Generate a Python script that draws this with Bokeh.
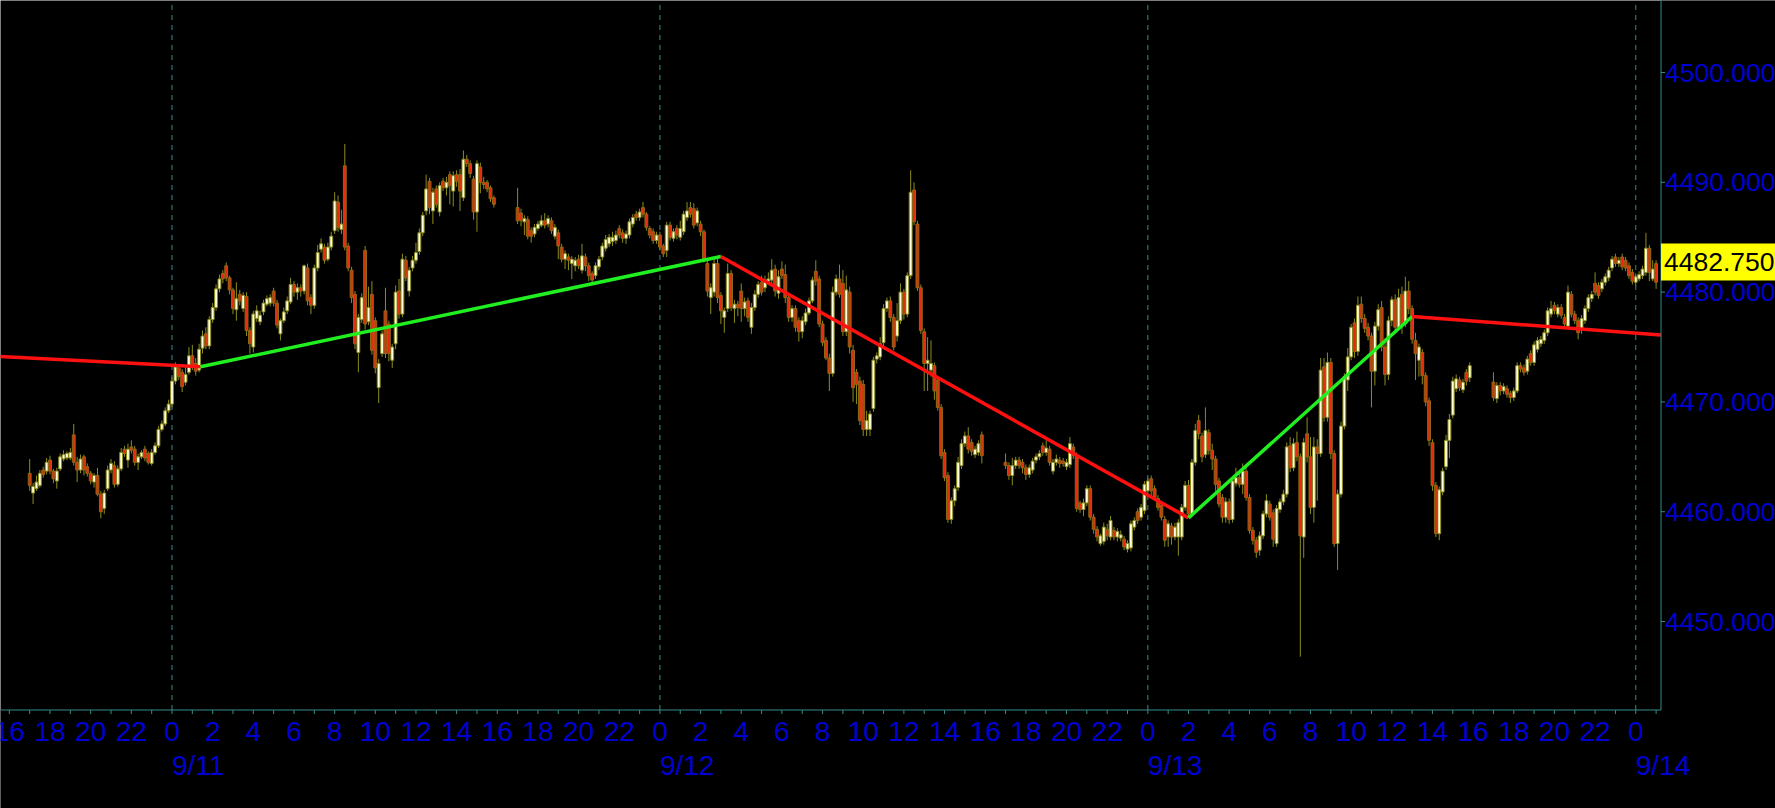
from bokeh.plotting import figure
from bokeh.models import Range1d, ColumnDataSource
from bokeh.core.properties import value
from bokeh.embed import file_html
from bokeh.resources import INLINE

# ---------------- data (10-minute bars, hours measured from 9/11 00:00) ----------------
bar_minutes = 10
session_start_h = [-7, 17, 41, 65]          # 9/10 17:00, 9/11 17:00, 9/12 17:00, 9/13 17:00

a_open = [4463.5, 4461.7, 4462.1, 4462.4, 4463.8, 4463.7, 4464.7, 4463.7, 4462.8, 4463.9,
          4464.8, 4464.9, 4464.9, 4467.0, 4464.5, 4463.8, 4465.0, 4464.1, 4463.5, 4462.7,
          4463.3, 4461.6, 4460.3, 4462.1, 4463.8, 4464.2, 4462.5, 4463.9, 4465.7, 4464.7,
          4465.9, 4465.7, 4464.5, 4465.0, 4465.7, 4465.3, 4464.4, 4465.4, 4466.0, 4467.5,
          4468.0, 4469.2, 4469.8, 4471.9, 4473.1, 4472.7, 4471.8, 4472.7, 4474.2, 4473.5,
          4472.9, 4474.9, 4476.2, 4475.1, 4477.5, 4478.6, 4480.3, 4481.7, 4482.4, 4481.3,
          4480.2, 4478.4, 4479.8, 4478.5, 4479.6, 4476.5, 4475.0, 4477.6, 4477.3, 4478.2,
          4478.9, 4479.0, 4480.1, 4479.0, 4476.2, 4477.4, 4478.3, 4479.1, 4480.7, 4480.0,
          4480.4, 4480.1, 4482.2, 4479.5, 4478.8, 4482.2, 4483.9, 4484.1, 4483.0, 4484.1,
          4485.6, 4488.2, 4485.7, 4491.5, 4484.2, 4482.0, 4479.8, 4474.5, 4477.5, 4483.8,
          4477.3, 4479.8, 4477.4, 4471.3, 4474.4, 4478.3, 4477.1, 4473.8, 4475.3, 4480.1,
          4478.0, 4482.9, 4480.1, 4482.2, 4482.9, 4483.7, 4485.4, 4487.4, 4490.1, 4487.4,
          4489.4, 4487.3, 4490.1, 4489.5, 4490.7, 4489.2, 4490.7, 4490.7, 4488.6, 4492.1,
          4491.7, 4490.3, 4487.3, 4491.4, 4490.0, 4490.0, 4489.5, 4488.6]
a_high = [4464.8, 4462.6, 4463.3, 4463.8, 4464.1, 4464.9, 4465.1, 4463.9, 4464.0, 4465.3,
          4465.6, 4465.5, 4465.8, 4468.0, 4465.0, 4465.2, 4465.2, 4464.4, 4463.7, 4463.5,
          4464.0, 4461.9, 4462.0, 4464.2, 4464.8, 4464.6, 4464.2, 4465.8, 4466.0, 4466.2,
          4466.5, 4466.0, 4465.3, 4465.6, 4466.0, 4465.5, 4465.7, 4466.3, 4467.8, 4468.3,
          4469.5, 4470.2, 4472.3, 4473.6, 4473.4, 4473.0, 4473.3, 4475.0, 4475.2, 4474.0,
          4475.3, 4476.5, 4476.8, 4477.8, 4479.0, 4480.7, 4481.6, 4482.0, 4482.7, 4481.5,
          4480.4, 4480.9, 4480.2, 4480.0, 4480.0, 4476.8, 4478.3, 4478.8, 4478.3, 4479.3,
          4479.7, 4479.8, 4480.4, 4479.3, 4477.6, 4478.6, 4479.6, 4481.3, 4481.0, 4480.8,
          4480.7, 4482.5, 4482.6, 4479.8, 4482.5, 4484.3, 4484.9, 4484.4, 4484.5, 4485.5,
          4489.1, 4488.8, 4487.5, 4493.5, 4484.5, 4482.3, 4480.1, 4478.0, 4479.9, 4484.2,
          4480.5, 4481.0, 4477.7, 4473.9, 4476.5, 4480.4, 4477.4, 4475.3, 4480.6, 4481.2,
          4483.5, 4483.3, 4482.3, 4483.3, 4484.5, 4485.8, 4487.3, 4490.7, 4490.4, 4489.5,
          4489.7, 4490.0, 4490.4, 4490.5, 4491.0, 4491.0, 4491.1, 4491.2, 4492.9, 4492.5,
          4492.0, 4490.6, 4492.0, 4491.8, 4490.5, 4490.2, 4489.7, 4488.8]
a_low = [4461.9, 4460.7, 4461.9, 4462.2, 4463.1, 4463.4, 4463.4, 4462.6, 4462.1, 4463.7,
         4464.6, 4464.7, 4464.7, 4464.2, 4462.7, 4463.5, 4463.3, 4463.2, 4462.5, 4462.2,
         4461.4, 4459.4, 4459.8, 4461.9, 4463.5, 4462.2, 4462.3, 4463.7, 4465.0, 4464.0,
         4465.3, 4464.2, 4463.8, 4464.8, 4464.6, 4464.3, 4464.2, 4465.2, 4465.8, 4467.3,
         4467.8, 4469.0, 4469.5, 4471.6, 4472.0, 4470.9, 4471.5, 4472.5, 4472.9, 4472.4,
         4472.7, 4474.4, 4474.8, 4474.8, 4477.2, 4478.3, 4480.0, 4480.8, 4481.0, 4479.8,
         4478.0, 4477.4, 4478.8, 4478.2, 4476.0, 4474.4, 4474.5, 4477.3, 4477.0, 4477.9,
         4478.7, 4478.7, 4478.7, 4476.7, 4475.6, 4477.2, 4478.0, 4478.9, 4479.6, 4479.3,
         4479.6, 4479.8, 4478.8, 4478.0, 4478.5, 4481.9, 4483.6, 4482.6, 4482.8, 4483.8,
         4485.3, 4485.5, 4485.3, 4483.8, 4481.9, 4479.0, 4474.8, 4472.7, 4477.2, 4476.6,
         4477.0, 4474.3, 4472.6, 4469.9, 4474.1, 4474.0, 4473.7, 4473.1, 4474.8, 4477.6,
         4477.7, 4481.0, 4479.6, 4481.9, 4482.6, 4483.4, 4485.1, 4487.0, 4487.1, 4486.2,
         4487.7, 4486.9, 4489.2, 4488.8, 4488.0, 4487.8, 4489.6, 4487.4, 4488.3, 4491.4,
         4490.4, 4486.6, 4485.5, 4489.0, 4489.4, 4489.1, 4488.2, 4487.7]
a_close = [4462.4, 4462.3, 4462.7, 4463.5, 4463.4, 4464.5, 4463.7, 4463.0, 4463.7, 4465.0,
           4465.2, 4465.3, 4465.4, 4464.5, 4463.8, 4464.8, 4463.8, 4463.5, 4462.8, 4463.3,
           4461.6, 4460.0, 4461.7, 4463.8, 4464.4, 4462.5, 4463.9, 4465.4, 4465.3, 4465.7,
           4465.6, 4464.5, 4465.0, 4465.4, 4464.9, 4464.5, 4465.4, 4466.0, 4467.5, 4468.0,
           4469.2, 4469.8, 4471.9, 4473.2, 4472.3, 4471.4, 4472.5, 4474.2, 4473.3, 4472.8,
           4474.8, 4476.0, 4475.1, 4477.5, 4478.6, 4480.3, 4481.2, 4481.2, 4481.3, 4480.2,
           4478.5, 4479.4, 4479.2, 4479.7, 4476.5, 4475.3, 4478.0, 4478.3, 4477.9, 4479.0,
           4479.4, 4479.5, 4479.0, 4477.0, 4477.4, 4478.2, 4479.2, 4480.7, 4480.0, 4480.4,
           4480.1, 4482.4, 4479.2, 4478.8, 4482.2, 4483.6, 4484.4, 4482.9, 4484.1, 4485.1,
           4488.3, 4485.9, 4486.2, 4484.1, 4482.2, 4479.5, 4475.3, 4477.7, 4479.5, 4477.1,
           4478.6, 4474.7, 4473.1, 4473.5, 4476.2, 4474.4, 4474.4, 4475.0, 4480.0, 4478.0,
           4483.0, 4481.3, 4482.0, 4482.9, 4483.6, 4485.4, 4487.0, 4489.4, 4487.7, 4489.1,
           4488.0, 4489.7, 4489.5, 4490.0, 4489.7, 4490.6, 4490.1, 4489.2, 4492.1, 4491.7,
           4490.8, 4487.3, 4491.7, 4490.0, 4489.8, 4489.4, 4488.5, 4488.0]

b_open = [4487.7, 4487.2, 4486.4, 4486.6, 4485.6, 4485.3, 4485.8, 4486.1, 4486.5, 4486.2,
          4486.5, 4485.1, 4485.4, 4484.1, 4483.0, 4483.2, 4482.6, 4482.4, 4483.0, 4482.0,
          4483.2, 4482.4, 4481.7, 4481.5, 4482.3, 4483.2, 4484.0, 4484.4, 4484.6, 4484.7,
          4485.8, 4485.4, 4484.9, 4485.2, 4486.2, 4487.1, 4486.8, 4487.7, 4487.1, 4485.8,
          4485.5, 4484.7, 4485.2, 4484.2, 4483.8, 4486.1, 4484.9, 4485.8, 4485.0, 4485.5,
          4486.8, 4487.7, 4487.6, 4486.3, 4486.2, 4485.5, 4482.6, 4479.5, 4480.0, 4482.6,
          4479.7, 4477.7, 4478.5, 4481.7, 4478.5, 4478.9, 4480.1, 4478.5, 4479.2, 4476.8,
          4478.6, 4479.8, 4480.9, 4480.4, 4481.0, 4481.1, 4482.1, 4479.9, 4482.1, 4481.6,
          4479.5, 4477.7, 4478.5, 4477.4, 4476.4, 4477.3, 4478.1, 4479.2, 4481.9, 4481.2,
          4477.1, 4475.6, 4474.0, 4472.6, 4480.0, 4481.2, 4480.8, 4476.4, 4480.0, 4474.7,
          4472.7, 4471.9, 4471.6, 4467.5, 4467.5, 4469.4, 4473.9, 4474.1, 4475.4, 4478.5,
          4479.2, 4477.7, 4476.0, 4477.4, 4480.0, 4478.0, 4481.5, 4489.3, 4486.2, 4480.4,
          4476.4, 4473.5, 4472.9, 4473.3, 4472.0, 4469.5, 4465.4, 4463.3, 4459.3, 4461.0,
          4462.2, 4464.2, 4466.2, 4466.9, 4466.3, 4465.2, 4465.4, 4467.0]
b_high = [4489.5, 4487.6, 4487.0, 4486.9, 4485.9, 4486.2, 4486.5, 4487.0, 4487.2, 4487.0,
          4486.8, 4486.2, 4485.7, 4484.4, 4483.8, 4483.5, 4483.3, 4483.2, 4483.4, 4484.4,
          4483.5, 4482.7, 4481.9, 4482.7, 4483.3, 4484.5, 4485.2, 4485.3, 4485.5, 4485.6,
          4486.1, 4485.7, 4485.6, 4486.7, 4487.1, 4487.4, 4487.6, 4488.2, 4487.3, 4486.0,
          4485.8, 4485.5, 4485.5, 4484.4, 4486.4, 4486.4, 4485.8, 4486.1, 4486.5, 4487.4,
          4488.2, 4488.2, 4488.1, 4487.7, 4486.5, 4485.7, 4482.9, 4480.8, 4483.0, 4483.2,
          4480.0, 4478.6, 4482.6, 4482.0, 4479.3, 4479.2, 4480.8, 4479.5, 4479.5, 4479.0,
          4480.2, 4481.0, 4481.5, 4481.5, 4481.8, 4483.0, 4482.5, 4482.0, 4482.8, 4482.5,
          4479.8, 4478.8, 4478.8, 4477.7, 4477.8, 4478.5, 4479.5, 4481.4, 4482.9, 4481.5,
          4477.4, 4475.9, 4474.4, 4480.5, 4481.6, 4482.5, 4482.0, 4481.5, 4480.5, 4475.2,
          4473.0, 4472.3, 4472.0, 4469.2, 4469.2, 4474.1, 4474.5, 4475.9, 4478.9, 4479.5,
          4479.6, 4478.0, 4479.0, 4480.8, 4480.3, 4481.8, 4491.1, 4490.0, 4486.5, 4480.7,
          4476.7, 4475.9, 4475.6, 4473.6, 4472.3, 4469.8, 4465.7, 4463.6, 4461.3, 4462.4,
          4465.0, 4466.6, 4467.3, 4467.7, 4466.6, 4466.0, 4466.5, 4467.3]
b_low = [4486.2, 4486.0, 4485.2, 4484.8, 4484.5, 4485.0, 4485.6, 4485.9, 4485.8, 4485.9,
         4485.3, 4484.8, 4483.0, 4482.7, 4482.1, 4482.0, 4481.2, 4481.9, 4482.1, 4481.7,
         4481.9, 4481.0, 4480.8, 4481.2, 4482.0, 4482.9, 4483.7, 4484.1, 4484.2, 4484.4,
         4484.9, 4484.5, 4484.4, 4484.9, 4485.9, 4486.5, 4486.5, 4486.8, 4485.6, 4484.9,
         4484.4, 4484.4, 4483.8, 4483.2, 4483.2, 4484.7, 4484.6, 4484.8, 4484.7, 4485.2,
         4486.5, 4486.8, 4485.8, 4486.0, 4485.1, 4482.7, 4479.6, 4478.0, 4479.6, 4479.0,
         4477.1, 4476.3, 4478.2, 4478.3, 4477.2, 4477.8, 4477.3, 4477.8, 4477.3, 4476.2,
         4478.3, 4479.5, 4479.7, 4480.0, 4480.8, 4480.8, 4479.6, 4479.4, 4481.2, 4479.0,
         4477.3, 4477.3, 4476.4, 4475.5, 4475.8, 4477.0, 4477.9, 4479.0, 4480.6, 4476.8,
         4475.1, 4473.8, 4471.0, 4472.3, 4479.7, 4479.5, 4476.0, 4476.0, 4474.4, 4470.0,
         4469.8, 4467.9, 4466.9, 4466.9, 4466.9, 4469.1, 4473.5, 4473.8, 4475.1, 4478.2,
         4477.3, 4474.7, 4475.5, 4477.1, 4477.5, 4477.7, 4481.2, 4486.1, 4480.1, 4476.2,
         4471.0, 4471.0, 4472.3, 4470.2, 4469.2, 4464.8, 4462.8, 4459.0, 4458.9, 4460.5,
         4461.9, 4463.9, 4465.9, 4465.3, 4465.1, 4464.9, 4465.1, 4464.4]
b_close = [4486.5, 4486.5, 4486.7, 4485.1, 4485.1, 4485.9, 4486.2, 4486.5, 4486.1, 4486.7,
           4485.6, 4485.9, 4484.2, 4483.0, 4483.5, 4482.9, 4483.0, 4482.9, 4482.4, 4483.3,
           4482.4, 4481.5, 4481.1, 4482.4, 4483.0, 4484.2, 4484.8, 4485.0, 4485.0, 4485.2,
           4485.2, 4484.9, 4485.3, 4486.4, 4486.8, 4486.8, 4487.3, 4487.1, 4485.9, 4485.2,
           4484.7, 4485.2, 4484.1, 4483.5, 4486.1, 4485.0, 4485.5, 4485.2, 4485.8, 4487.1,
           4487.4, 4487.1, 4486.1, 4487.4, 4485.5, 4483.0, 4480.1, 4480.4, 4482.6, 4479.5,
           4478.3, 4478.3, 4481.7, 4478.6, 4478.9, 4478.6, 4478.5, 4479.1, 4477.7, 4478.6,
           4479.8, 4480.7, 4480.0, 4481.1, 4481.2, 4482.0, 4480.1, 4481.4, 4481.5, 4479.5,
           4477.7, 4478.5, 4476.8, 4476.4, 4477.4, 4478.1, 4479.2, 4481.1, 4481.0, 4477.1,
           4475.4, 4474.0, 4472.6, 4480.0, 4481.2, 4479.8, 4476.4, 4480.2, 4475.0, 4471.3,
           4471.6, 4468.3, 4467.5, 4468.3, 4468.9, 4473.8, 4474.2, 4475.3, 4478.5, 4479.2,
           4477.7, 4475.0, 4477.4, 4480.0, 4478.0, 4481.5, 4489.1, 4486.4, 4480.4, 4476.5,
           4473.5, 4473.8, 4473.5, 4471.0, 4469.5, 4465.1, 4463.1, 4459.3, 4461.0, 4462.1,
           4464.5, 4466.2, 4466.9, 4465.7, 4465.5, 4465.7, 4466.2, 4465.1]

c_open = [4464.5, 4464.2, 4463.3, 4464.2, 4464.7, 4464.5, 4464.0, 4463.4, 4463.8, 4464.7,
          4465.0, 4466.0, 4465.4, 4465.7, 4463.7, 4464.5, 4464.7, 4464.6, 4464.1, 4464.3,
          4465.9, 4465.1, 4460.8, 4460.2, 4460.8, 4462.1, 4459.5, 4458.4, 4457.1, 4457.3,
          4458.4, 4457.7, 4458.3, 4457.7, 4457.6, 4457.5, 4456.6, 4456.7, 4458.6, 4460.0,
          4459.5, 4460.1, 4461.9, 4463.0, 4462.1, 4461.2, 4460.6, 4459.3, 4457.7, 4458.7,
          4457.7, 4457.7, 4457.7, 4460.4, 4462.4, 4459.8, 4464.5, 4468.3, 4466.9, 4465.2,
          4467.2, 4465.6, 4464.8, 4462.8, 4461.3, 4459.5, 4460.9, 4459.3, 4462.6, 4463.1,
          4462.5, 4463.7, 4461.3, 4458.3, 4457.4, 4456.5, 4457.8, 4459.8, 4460.7, 4459.9,
          4457.1, 4460.2, 4460.9, 4461.6, 4466.0, 4464.0, 4466.3, 4465.0, 4457.7, 4467.1,
          4465.0, 4460.4, 4465.9, 4465.3, 4473.2, 4468.6, 4473.6, 4465.3, 4457.1, 4461.6,
          4467.8, 4472.0, 4474.1, 4477.2, 4474.6, 4478.9, 4477.6, 4476.8, 4476.0, 4472.8,
          4476.9, 4478.6, 4475.0, 4472.5, 4477.4, 4479.3, 4476.8, 4479.8, 4477.1, 4480.1,
          4478.5, 4475.6, 4473.8, 4474.5, 4472.4, 4470.1, 4466.3, 4462.4, 4458.0, 4461.8,
          4464.1, 4466.5, 4468.8, 4471.2, 4472.0, 4471.1, 4472.7, 4472.2]
c_high = [4465.3, 4464.5, 4464.9, 4465.0, 4465.0, 4464.8, 4464.3, 4464.3, 4464.9, 4465.3,
          4465.6, 4466.3, 4466.5, 4466.0, 4464.8, 4465.2, 4465.0, 4464.9, 4464.8, 4466.8,
          4466.2, 4465.4, 4461.0, 4461.2, 4462.4, 4462.4, 4459.8, 4458.7, 4458.0, 4459.0,
          4458.9, 4459.6, 4458.6, 4458.5, 4458.3, 4457.8, 4457.4, 4459.2, 4459.5, 4460.3,
          4460.7, 4462.8, 4463.1, 4463.3, 4462.4, 4461.5, 4460.9, 4459.6, 4459.2, 4459.0,
          4459.0, 4459.3, 4460.7, 4462.8, 4462.9, 4464.8, 4468.0, 4468.8, 4467.2, 4469.5,
          4467.5, 4466.2, 4465.1, 4463.1, 4461.6, 4461.3, 4461.2, 4463.2, 4464.0, 4463.5,
          4464.4, 4464.0, 4461.6, 4458.6, 4457.7, 4458.2, 4460.1, 4461.6, 4461.0, 4460.2,
          4460.6, 4461.2, 4462.0, 4466.3, 4466.8, 4466.7, 4467.3, 4465.3, 4466.7, 4468.6,
          4466.8, 4466.8, 4466.6, 4474.0, 4474.0, 4474.5, 4474.0, 4465.6, 4462.0, 4468.2,
          4472.6, 4474.9, 4477.1, 4477.6, 4479.6, 4479.6, 4478.0, 4477.2, 4476.3, 4477.3,
          4478.9, 4479.2, 4475.8, 4477.8, 4479.6, 4479.8, 4480.3, 4480.5, 4481.4, 4481.0,
          4478.8, 4476.3, 4475.3, 4474.8, 4472.7, 4470.4, 4466.6, 4462.7, 4462.3, 4464.0,
          4467.0, 4468.9, 4472.3, 4472.5, 4472.3, 4472.1, 4473.0, 4473.6]
c_low = [4463.9, 4462.9, 4462.4, 4463.9, 4463.9, 4463.5, 4462.9, 4463.1, 4463.5, 4464.4,
         4464.7, 4465.1, 4465.1, 4464.2, 4463.4, 4464.2, 4464.0, 4464.1, 4463.8, 4464.0,
         4464.8, 4460.0, 4459.9, 4459.6, 4460.5, 4459.2, 4458.0, 4457.3, 4456.9, 4457.0,
         4457.4, 4457.4, 4457.4, 4457.3, 4457.3, 4456.5, 4456.3, 4456.4, 4458.3, 4458.9,
         4459.2, 4459.8, 4461.6, 4461.2, 4461.0, 4460.1, 4459.2, 4456.8, 4456.8, 4457.0,
         4457.4, 4456.0, 4457.4, 4460.1, 4459.5, 4459.5, 4464.2, 4466.6, 4464.5, 4464.9,
         4465.2, 4463.8, 4461.9, 4460.4, 4459.0, 4459.0, 4458.9, 4459.0, 4462.3, 4462.2,
         4461.6, 4461.0, 4458.0, 4457.0, 4455.8, 4456.0, 4457.5, 4459.5, 4459.2, 4456.8,
         4456.8, 4459.9, 4460.6, 4461.3, 4463.6, 4463.7, 4464.6, 4446.8, 4455.8, 4464.5,
         4459.8, 4459.0, 4461.0, 4465.0, 4468.2, 4468.2, 4464.8, 4456.8, 4454.7, 4461.3,
         4467.5, 4471.0, 4473.8, 4474.0, 4474.2, 4477.2, 4476.3, 4475.6, 4469.5, 4471.5,
         4476.5, 4474.6, 4471.5, 4472.0, 4476.9, 4476.4, 4476.6, 4476.2, 4476.8, 4478.0,
         4475.3, 4472.0, 4472.3, 4471.6, 4469.6, 4466.0, 4461.9, 4457.7, 4457.4, 4461.5,
         4463.8, 4464.9, 4468.5, 4470.9, 4471.0, 4470.8, 4471.5, 4471.8]
c_close = [4464.2, 4463.3, 4464.2, 4464.7, 4464.2, 4464.0, 4463.4, 4464.0, 4464.6, 4465.0,
           4465.3, 4465.4, 4465.8, 4464.5, 4464.5, 4464.8, 4464.4, 4464.4, 4464.5, 4466.2,
           4465.1, 4460.3, 4460.2, 4460.8, 4462.1, 4459.5, 4458.4, 4457.7, 4457.8, 4458.6,
           4457.8, 4459.2, 4457.7, 4458.2, 4457.9, 4456.8, 4457.1, 4458.9, 4459.2, 4459.2,
           4460.4, 4462.5, 4462.8, 4461.9, 4461.3, 4460.4, 4459.5, 4457.4, 4458.9, 4457.7,
           4458.6, 4459.0, 4460.4, 4462.4, 4459.8, 4464.5, 4467.4, 4467.1, 4465.0, 4467.4,
           4465.6, 4464.8, 4462.5, 4460.7, 4459.5, 4460.9, 4459.3, 4462.8, 4463.1, 4462.5,
           4463.7, 4461.3, 4458.3, 4457.4, 4456.3, 4457.8, 4459.8, 4461.0, 4459.5, 4457.5,
           4460.3, 4460.9, 4461.6, 4465.9, 4464.0, 4466.2, 4465.0, 4457.8, 4466.3, 4465.0,
           4460.4, 4465.9, 4465.3, 4472.9, 4468.6, 4473.6, 4465.3, 4457.1, 4461.6, 4467.8,
           4472.3, 4474.1, 4476.8, 4474.6, 4478.8, 4477.6, 4476.7, 4476.0, 4472.8, 4476.9,
           4478.4, 4475.0, 4472.5, 4477.4, 4479.3, 4476.8, 4479.5, 4477.1, 4480.1, 4478.5,
           4475.7, 4474.4, 4475.0, 4472.4, 4470.0, 4466.5, 4462.4, 4458.0, 4462.0, 4463.7,
           4466.5, 4468.4, 4471.9, 4472.1, 4471.3, 4471.8, 4471.9, 4473.3]

d_open = [4471.8, 4470.3, 4471.5, 4471.0, 4471.2, 4470.8, 4470.4, 4471.0, 4473.3, 4473.1,
          4472.8, 4474.4, 4473.6, 4474.8, 4475.3, 4475.6, 4476.3, 4478.0, 4478.8, 4478.0,
          4478.6, 4477.7, 4476.9, 4479.8, 4478.0, 4477.4, 4476.6, 4477.4, 4478.5, 4479.4,
          4480.8, 4480.6, 4480.3, 4480.9, 4481.3, 4482.2, 4483.2, 4482.6, 4483.2, 4482.9,
          4482.4, 4481.8, 4480.9, 4481.2, 4481.5, 4481.8, 4484.0, 4481.2, 4482.6]
d_high = [4472.7, 4471.8, 4471.8, 4471.7, 4471.5, 4471.0, 4471.3, 4473.6, 4473.6, 4473.4,
          4474.2, 4474.7, 4475.5, 4475.9, 4476.0, 4476.6, 4478.6, 4479.2, 4479.1, 4478.9,
          4478.9, 4478.0, 4480.6, 4480.1, 4478.3, 4477.7, 4477.9, 4478.8, 4479.8, 4480.1,
          4481.8, 4480.9, 4481.2, 4481.7, 4482.3, 4483.3, 4483.5, 4483.2, 4483.5, 4483.2,
          4482.7, 4482.1, 4481.7, 4481.9, 4482.4, 4485.4, 4484.3, 4482.9, 4482.9]
d_low = [4470.1, 4469.9, 4470.6, 4470.7, 4470.4, 4469.9, 4470.1, 4470.8, 4472.7, 4472.4,
         4472.5, 4473.3, 4473.3, 4474.5, 4475.0, 4475.3, 4476.0, 4477.7, 4478.0, 4477.7,
         4477.6, 4476.8, 4476.6, 4477.7, 4477.1, 4475.7, 4476.2, 4477.1, 4478.2, 4479.1,
         4479.7, 4479.4, 4480.0, 4480.6, 4481.0, 4481.9, 4482.3, 4482.3, 4482.0, 4481.9,
         4481.2, 4480.7, 4480.6, 4481.0, 4481.2, 4481.5, 4481.0, 4481.0, 4480.3]
d_close = [4470.4, 4471.5, 4471.0, 4471.4, 4470.7, 4470.4, 4471.0, 4473.3, 4473.0, 4472.7,
           4473.9, 4473.6, 4475.2, 4475.6, 4475.7, 4476.3, 4478.3, 4478.5, 4478.3, 4478.6,
           4477.9, 4477.1, 4480.0, 4478.0, 4477.4, 4476.3, 4477.6, 4478.5, 4479.5, 4479.8,
           4480.0, 4479.7, 4480.9, 4481.4, 4482.0, 4483.0, 4482.6, 4482.9, 4482.3, 4482.2,
           4481.5, 4481.0, 4481.4, 4481.6, 4482.1, 4484.0, 4481.8, 4482.1, 4480.9]

# zig-zag swing line pivots (hours from 9/11 00:00, price)
pivot_h = [-8.5, 1.4, 27.0, 50.0, 61.0, 73.4]
pivot_p = [4474.15, 4473.2, 4483.24, 4459.44, 4477.78, 4476.08]

last_price = 4482.75
price_ticks = [4450, 4460, 4470, 4480, 4490, 4500]
hour_ticks = list(range(-8, 73, 2))          # labelled every 2 hours
hour_minor = list(range(-8, 74))              # tick marks every hour
day_ticks = [0, 24, 48, 72]
day_labels = ["9/11", "9/12", "9/13", "9/14"]

# ---------------- assemble bars ----------------
sessions = [(a_open, a_high, a_low, a_close), (b_open, b_high, b_low, b_close),
            (c_open, c_high, c_low, c_close), (d_open, d_high, d_low, d_close)]
T, O, H, L, C = [], [], [], [], []
for s0, (so, sh, sl, sc) in zip(session_start_h, sessions):
    for i in range(len(sc)):
        T.append(s0 + i * bar_minutes / 60.0)
        O.append(so[i]); H.append(sh[i]); L.append(sl[i]); C.append(sc[i])

def subset(flag):
    idx = [i for i in range(len(T)) if flag(i)]
    return ColumnDataSource(dict(
        t=[T[i] for i in idx],
        top=[max(O[i], C[i]) for i in idx],
        bot=[min(O[i], C[i]) for i in idx],
        hi=[H[i] for i in idx], lo=[L[i] for i in idx]))

up_src = subset(lambda i: C[i] >= O[i])
dn_src = subset(lambda i: C[i] < O[i])

# ---------------- scales / layout ----------------
W, HGT = 1775, 808
PX_PER_H = 20.33          # pixels per hour
PX_PER_PT = 10.98         # pixels per index point
X_LEFT = -8.436           # time at the left edge
X_RIGHT = X_LEFT + W / PX_PER_H
Y_TOP = 4506.56           # price at the top edge
Y_BOTTOM = Y_TOP - HGT / PX_PER_PT
DX = 1.0 / PX_PER_H       # one pixel in hours
DY = 1.0 / PX_PER_PT      # one pixel in points
X_AXIS = X_LEFT + 1660.5 * DX   # price-scale line
Y_AXIS = Y_TOP - 709.5 * DY     # time-scale line

AXIS = "#358C8C"
BLUE = "#0000D2"
FONT = "Liberation Sans"

p = figure(width=W, height=HGT, x_range=Range1d(X_LEFT, X_RIGHT),
           y_range=Range1d(Y_BOTTOM, Y_TOP),
           x_axis_location=None, y_axis_location=None,
           output_backend="svg", toolbar_location=None,
           background_fill_color="black", border_fill_color="black",
           outline_line_color=None, min_border=0)
p.grid.visible = False

# day separators (dashed)
p.segment(x0=day_ticks, y0=[Y_AXIS] * len(day_ticks), x1=day_ticks, y1=[Y_TOP] * len(day_ticks),
          line_color=AXIS, line_width=1, line_dash="5 5")

# candles
WICK = "#8C8C1E"
for src in (up_src, dn_src):
    p.segment(x0="t", y0="lo", x1="t", y1="hi", source=src, line_color=WICK, line_width=1)
p.vbar(x="t", width=0.14, top="top", bottom="bot", source=up_src,
       fill_color="#FFFFE0", line_color="#8C8C1E", line_width=1)
p.vbar(x="t", width=0.14, top="top", bottom="bot", source=dn_src,
       fill_color="#E82A10", line_color="#8C6A14", line_width=1)

# zig-zag swing lines
zx0, zx1 = pivot_h[:-1], pivot_h[1:]
zy0, zy1 = pivot_p[:-1], pivot_p[1:]
zcol = ["#20F020" if b > a else "#FF1010" for a, b in zip(zy0, zy1)]
p.segment(x0=zx0, y0=zy0, x1=zx1, y1=zy1, line_color=zcol, line_width=3.5)

# scale panels (black) to the right of / below the chart area
p.quad(left=[X_AXIS], right=[X_RIGHT], bottom=[Y_BOTTOM], top=[Y_TOP],
       fill_color="black", line_color=None)
p.quad(left=[X_LEFT], right=[X_RIGHT], bottom=[Y_BOTTOM], top=[Y_AXIS],
       fill_color="black", line_color=None)

# scale lines
p.segment(x0=[X_LEFT, X_AXIS], y0=[Y_AXIS, Y_AXIS], x1=[X_AXIS, X_AXIS], y1=[Y_AXIS, Y_TOP],
          line_color=AXIS, line_width=1)

# time scale: tick marks every hour, labels every two hours, dates under midnight
p.segment(x0=hour_minor, y0=[Y_AXIS] * len(hour_minor), x1=hour_minor,
          y1=[Y_AXIS - 4 * DY] * len(hour_minor), line_color=AXIS, line_width=1)
p.text(x=hour_ticks, y=[Y_AXIS - 21 * DY] * len(hour_ticks),
       text=[str(h % 24) for h in hour_ticks],
       text_align="center", text_baseline="middle", text_color=BLUE,
       text_font=value(FONT), text_font_size=value("28px"))
p.text(x=day_ticks, y=[Y_AXIS - 55 * DY] * len(day_ticks), text=day_labels,
       text_align="left", text_baseline="middle", text_color=BLUE,
       text_font=value(FONT), text_font_size=value("28px"))

# price scale: tick marks and labels
p.segment(x0=[X_AXIS] * len(price_ticks), y0=price_ticks, x1=[X_AXIS + 4 * DX] * len(price_ticks),
          y1=price_ticks, line_color=AXIS, line_width=1)
p.text(x=[X_AXIS + 4 * DX] * len(price_ticks), y=price_ticks,
       text=[f"{v:.3f}" for v in price_ticks],
       text_align="left", text_baseline="middle", text_color=BLUE,
       text_font=value(FONT), text_font_size=value("26.5px"))

# last price marker
p.quad(left=[X_AXIS], right=[X_RIGHT], bottom=[last_price - 18.5 * DY],
       top=[last_price + 18.5 * DY], fill_color="#FFFF00", line_color=None)
p.text(x=[X_AXIS + 3 * DX], y=[last_price], text=[f"{last_price:.3f}"],
       text_align="left", text_baseline="middle", text_color="black",
       text_font=value(FONT), text_font_size=value("26.5px"))

open("out.html", "w").write(file_html(p, INLINE))
